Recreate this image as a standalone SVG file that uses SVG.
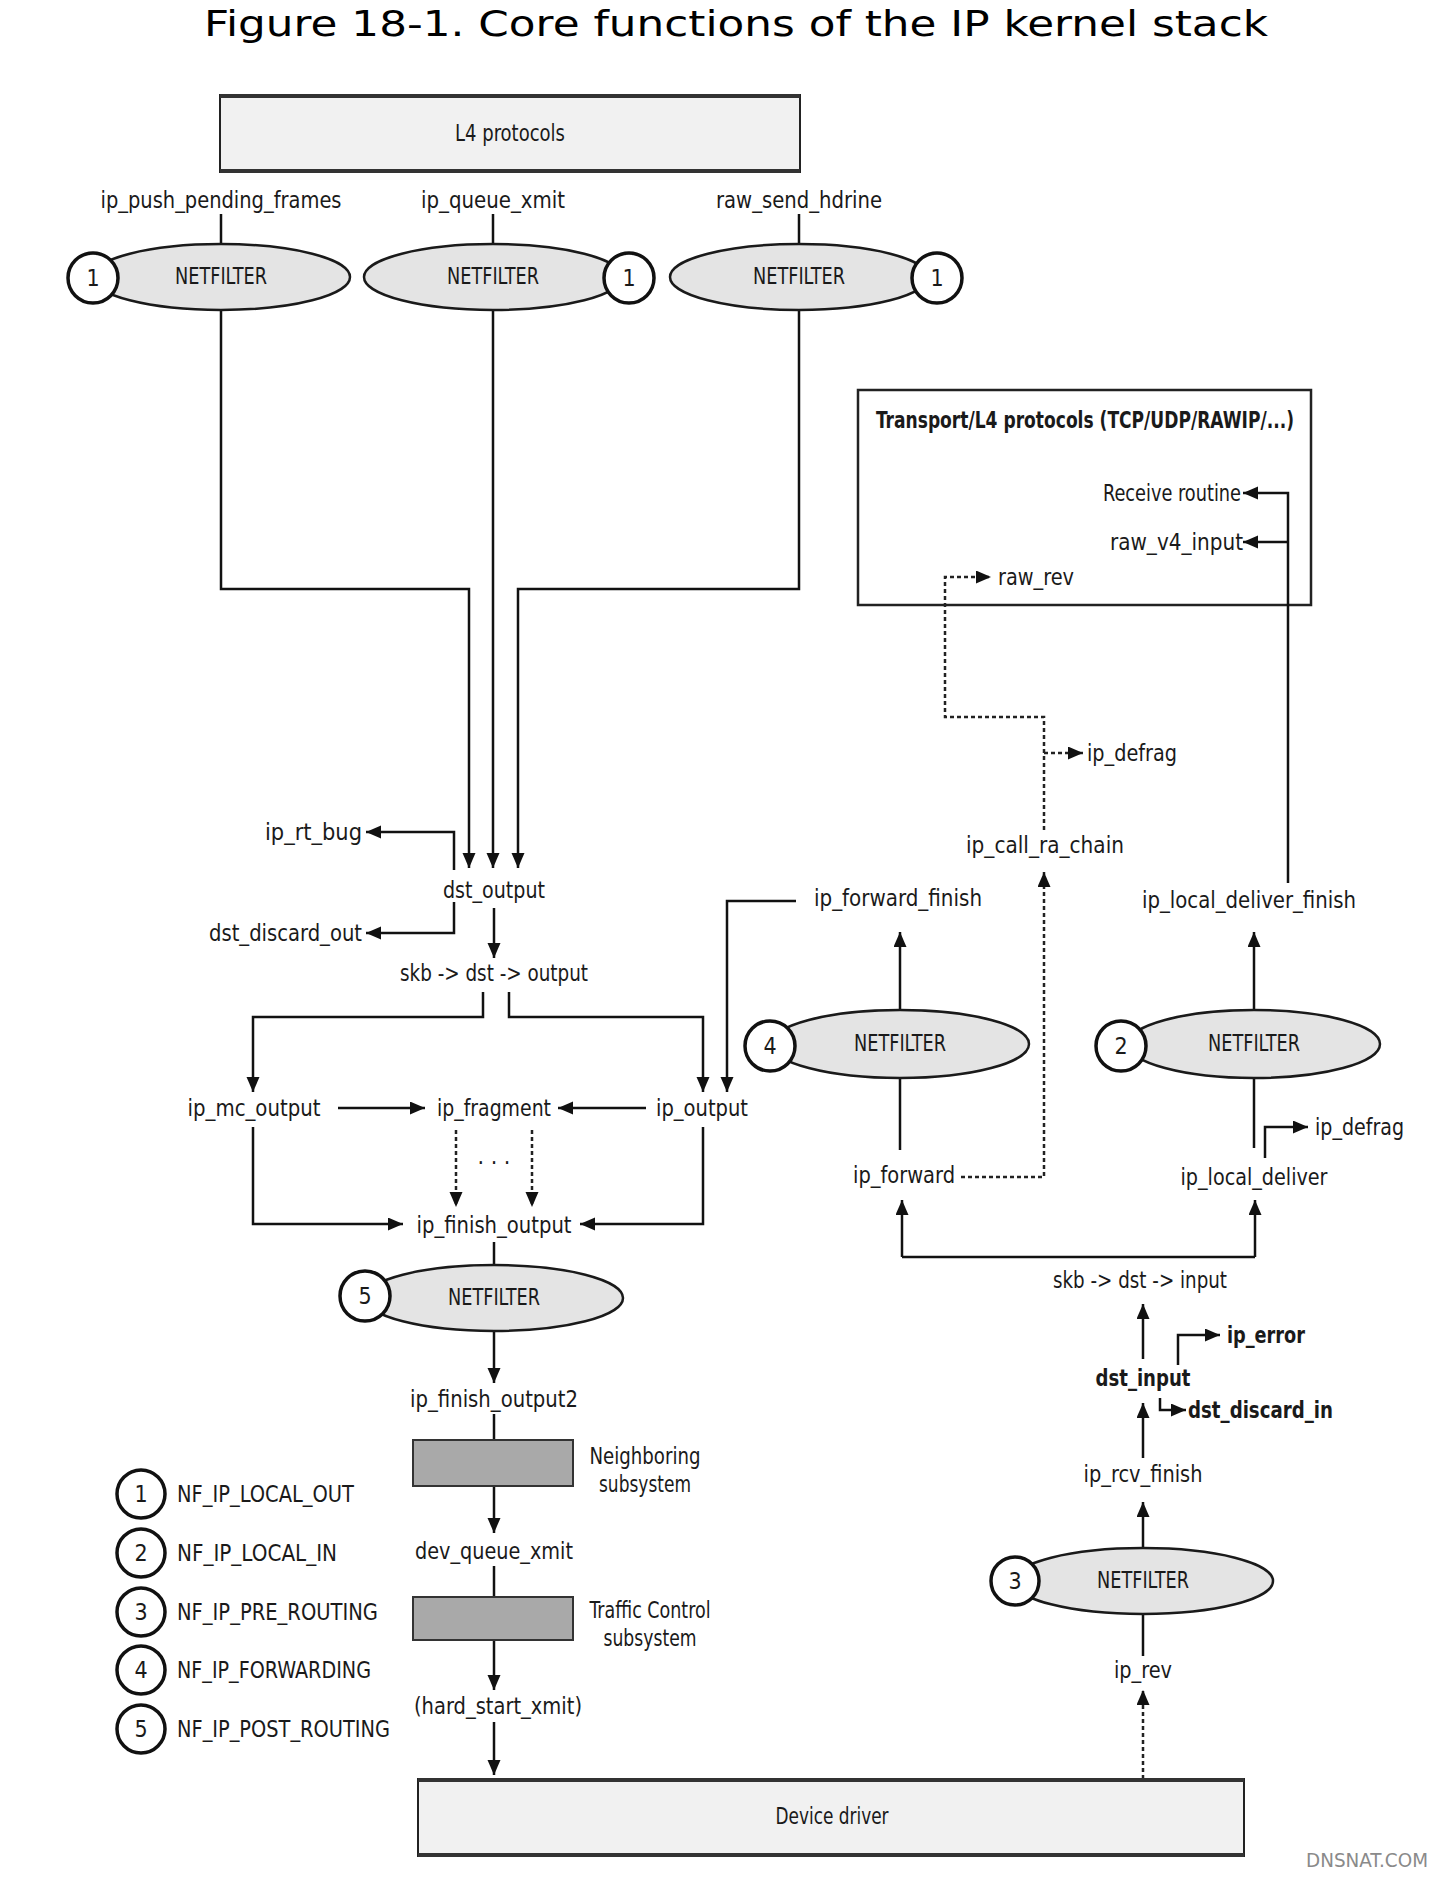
<svg xmlns="http://www.w3.org/2000/svg" width="1440" height="1881" viewBox="0 0 1440 1881">
<defs>
<marker id="ah" markerUnits="userSpaceOnUse" markerWidth="16" markerHeight="14" refX="15" refY="6.5" orient="auto">
<path d="M0,0 L15,6.5 L0,13 z" fill="#111"/>
</marker>
</defs>
<style>
text{font-family:"Liberation Sans Narrow","DejaVu Sans Condensed","Liberation Sans",Arial,sans-serif;font-size:23px;fill:#1a1a1a;dominant-baseline:central}
.m{text-anchor:middle}
.e{text-anchor:end}
.b{font-weight:bold}
.title{font-family:"DejaVu Sans","Liberation Sans",sans-serif;font-size:36px;fill:#000;dominant-baseline:auto}
.nf{fill:#e4e4e4;stroke:#1a1a1a;stroke-width:2.5}
.cir{fill:#fff;stroke:#111;stroke-width:3.5}
.box{fill:#f1f1f1;stroke:#222;stroke-width:2}
.gbox{fill:#a9a9a9;stroke:#333;stroke-width:2}
.c{fill:none;stroke:#111;stroke-width:2.5}
.a{fill:none;stroke:#111;stroke-width:2.5;marker-end:url(#ah)}
.d{fill:none;stroke:#222;stroke-width:2.5;stroke-dasharray:4 3}
.da{fill:none;stroke:#222;stroke-width:2.5;stroke-dasharray:4 3;marker-end:url(#ah)}
.wm{font-family:"DejaVu Sans Condensed","Liberation Sans",sans-serif;font-size:20px;fill:#8a8a8a}
</style>
<rect width="1440" height="1881" fill="#fff"/>
<text class="title m" x="736" y="36" textLength="1064" lengthAdjust="spacingAndGlyphs">Figure 18-1. Core functions of the IP kernel stack</text>

<g id="transport-frame">
<rect x="858" y="390" width="453" height="215" fill="none" stroke="#222" stroke-width="2.5"/>
</g>

<g id="connectors">
<path class="c" d="M221,214 V244 M493,214 V244 M799,214 V244"/>
<path class="a" d="M221,310 V589 H469 V868"/>
<path class="a" d="M493,310 V868"/>
<path class="a" d="M799,310 V589 H518 V868"/>
<path class="a" d="M454,870 V832 H366"/>
<path class="a" d="M454,902 V933 H366"/>
<path class="a" d="M494,908 V958"/>
<path class="a" d="M483,992 V1017 H253 V1092"/>
<path class="a" d="M509,992 V1017 H703 V1092"/>
<path class="a" d="M796,901 H727 V1092"/>
<path class="a" d="M338,1108 H425"/>
<path class="a" d="M646,1108 H558"/>
<path class="da" d="M456,1130 V1207"/>
<path class="da" d="M532,1130 V1207"/>
<path class="a" d="M253,1127 V1224 H403"/>
<path class="a" d="M703,1127 V1224 H580"/>
<path class="c" d="M494,1242 V1265"/>
<path class="a" d="M494,1331 V1383"/>
<path class="c" d="M494,1414 V1440"/>
<path class="a" d="M494,1486 V1533"/>
<path class="c" d="M494,1566 V1597"/>
<path class="a" d="M494,1640 V1690"/>
<path class="a" d="M494,1722 V1775"/>
<path class="da" d="M1143,1779 V1690"/>
<path class="c" d="M1143,1656 V1614"/>
<path class="a" d="M1143,1548 V1502"/>
<path class="a" d="M1143,1458 V1403"/>
<path class="a" d="M1143,1359 V1304"/>
<path class="a" d="M1178,1365 V1335 H1220"/>
<path class="a" d="M1160,1398 V1410 H1186"/>
<path class="c" d="M902,1257 H1255"/>
<path class="a" d="M902,1257 V1200"/>
<path class="a" d="M1255,1257 V1200"/>
<path class="c" d="M900,1150 V1078"/>
<path class="a" d="M900,1010 V932"/>
<path class="da" d="M961,1177 H1044 V872"/>
<path class="c" d="M1254,1148 V1078"/>
<path class="a" d="M1254,1010 V932"/>
<path class="a" d="M1265,1158 V1127 H1308"/>
<path class="a" d="M1288,883 V493 H1243"/>
<path class="a" d="M1288,542 H1243"/>
<path class="da" d="M1044,830 V717 H945 V577 H991"/>
<path class="da" d="M1044,753 H1083"/>
</g>

<g id="l4-protocols">
<rect class="box" x="220" y="95" width="580" height="77"/>
<path d="M220,96 H800 M220,171 H800" stroke="#333" stroke-width="4"/>
<text class="m" x="510" y="133" textLength="110" lengthAdjust="spacingAndGlyphs">L4 protocols</text>
</g>
<g id="label-top">
<text class="m" x="221" y="200" textLength="241" lengthAdjust="spacingAndGlyphs">ip_push_pending_frames</text>
<text class="m" x="493" y="200" textLength="144" lengthAdjust="spacingAndGlyphs">ip_queue_xmit</text>
<text class="m" x="799" y="200" textLength="166" lengthAdjust="spacingAndGlyphs">raw_send_hdrine</text>
</g>
<g id="netfilter-1a">
<ellipse class="nf" cx="221" cy="277" rx="129" ry="33"/>
<text class="m" x="221" y="276" textLength="92" lengthAdjust="spacingAndGlyphs">NETFILTER</text>
<circle class="cir" cx="93" cy="278" r="25"/>
<text class="m" x="93" y="278">1</text>
</g>
<g id="netfilter-1b">
<ellipse class="nf" cx="493" cy="277" rx="129" ry="33"/>
<text class="m" x="493" y="276" textLength="92" lengthAdjust="spacingAndGlyphs">NETFILTER</text>
<circle class="cir" cx="629" cy="278" r="25"/>
<text class="m" x="629" y="278">1</text>
</g>
<g id="netfilter-1c">
<ellipse class="nf" cx="799" cy="277" rx="129" ry="33"/>
<text class="m" x="799" y="276" textLength="92" lengthAdjust="spacingAndGlyphs">NETFILTER</text>
<circle class="cir" cx="937" cy="278" r="25"/>
<text class="m" x="937" y="278">1</text>
</g>

<g id="output-path">
<text class="e" x="362" y="832" textLength="97" lengthAdjust="spacingAndGlyphs">ip_rt_bug</text>
<text class="m" x="494" y="890" textLength="102" lengthAdjust="spacingAndGlyphs">dst_output</text>
<text class="e" x="362" y="933" textLength="153" lengthAdjust="spacingAndGlyphs">dst_discard_out</text>
<text class="m" x="494" y="973" textLength="188" lengthAdjust="spacingAndGlyphs">skb -&gt; dst -&gt; output</text>
<text class="m" x="254" y="1108" textLength="133" lengthAdjust="spacingAndGlyphs">ip_mc_output</text>
<text class="m" x="494" y="1108" textLength="114" lengthAdjust="spacingAndGlyphs">ip_fragment</text>
<text class="m" x="702" y="1108" textLength="92" lengthAdjust="spacingAndGlyphs">ip_output</text>
<text class="m" x="494" y="1163">· · ·</text>
<text class="m" x="494" y="1225" textLength="155" lengthAdjust="spacingAndGlyphs">ip_finish_output</text>
</g>
<g id="netfilter-5">
<ellipse class="nf" cx="494" cy="1298" rx="129" ry="33"/>
<text class="m" x="494" y="1297" textLength="92" lengthAdjust="spacingAndGlyphs">NETFILTER</text>
<circle class="cir" cx="365" cy="1296" r="25"/>
<text class="m" x="365" y="1296">5</text>
</g>
<g id="tx-path">
<text class="m" x="494" y="1399" textLength="168" lengthAdjust="spacingAndGlyphs">ip_finish_output2</text>
<text class="m" x="494" y="1551" textLength="158" lengthAdjust="spacingAndGlyphs">dev_queue_xmit</text>
<text class="m" x="498" y="1706" textLength="168" lengthAdjust="spacingAndGlyphs">(hard_start_xmit)</text>
</g>
<g id="neighboring">
<rect class="gbox" x="413" y="1440" width="160" height="46"/>
<text class="m" x="645" y="1456" textLength="111" lengthAdjust="spacingAndGlyphs">Neighboring</text>
<text class="m" x="645" y="1484" textLength="92" lengthAdjust="spacingAndGlyphs">subsystem</text>
</g>
<g id="traffic-control">
<rect class="gbox" x="413" y="1597" width="160" height="43"/>
<text class="m" x="650" y="1610" textLength="121" lengthAdjust="spacingAndGlyphs">Traffic Control</text>
<text class="m" x="650" y="1638" textLength="93" lengthAdjust="spacingAndGlyphs">subsystem</text>
</g>
<g id="device-driver">
<rect class="box" x="418" y="1779" width="826" height="77"/>
<path d="M418,1780 H1244 M418,1855 H1244" stroke="#333" stroke-width="4"/>
<text class="m" x="832" y="1816" textLength="113" lengthAdjust="spacingAndGlyphs">Device driver</text>
</g>

<g id="legend">
<circle class="cir" cx="141" cy="1494" r="24"/><text class="m" x="141" y="1494">1</text>
<text x="177" y="1494" textLength="177" lengthAdjust="spacingAndGlyphs">NF_IP_LOCAL_OUT</text>
<circle class="cir" cx="141" cy="1553" r="24"/><text class="m" x="141" y="1553">2</text>
<text x="177" y="1553" textLength="160" lengthAdjust="spacingAndGlyphs">NF_IP_LOCAL_IN</text>
<circle class="cir" cx="141" cy="1612" r="24"/><text class="m" x="141" y="1612">3</text>
<text x="177" y="1612" textLength="201" lengthAdjust="spacingAndGlyphs">NF_IP_PRE_ROUTING</text>
<circle class="cir" cx="141" cy="1670" r="24"/><text class="m" x="141" y="1670">4</text>
<text x="177" y="1670" textLength="194" lengthAdjust="spacingAndGlyphs">NF_IP_FORWARDING</text>
<circle class="cir" cx="141" cy="1729" r="24"/><text class="m" x="141" y="1729">5</text>
<text x="177" y="1729" textLength="213" lengthAdjust="spacingAndGlyphs">NF_IP_POST_ROUTING</text>
</g>

<g id="transport">
<text class="b" x="876" y="420" textLength="418" lengthAdjust="spacingAndGlyphs">Transport/L4 protocols (TCP/UDP/RAWIP/...)</text>
<text class="e" x="1241" y="493" textLength="138" lengthAdjust="spacingAndGlyphs">Receive routine</text>
<text class="e" x="1243" y="542" textLength="133" lengthAdjust="spacingAndGlyphs">raw_v4_input</text>
<text x="998" y="577" textLength="76" lengthAdjust="spacingAndGlyphs">raw_rev</text>
</g>
<g id="forward-path">
<text x="1087" y="753" textLength="90" lengthAdjust="spacingAndGlyphs">ip_defrag</text>
<text class="m" x="1045" y="845" textLength="158" lengthAdjust="spacingAndGlyphs">ip_call_ra_chain</text>
<text class="m" x="898" y="898" textLength="168" lengthAdjust="spacingAndGlyphs">ip_forward_finish</text>
<text class="m" x="1249" y="900" textLength="214" lengthAdjust="spacingAndGlyphs">ip_local_deliver_finish</text>
<text class="m" x="904" y="1175" textLength="102" lengthAdjust="spacingAndGlyphs">ip_forward</text>
<text x="1315" y="1127" textLength="89" lengthAdjust="spacingAndGlyphs">ip_defrag</text>
<text class="m" x="1254" y="1177" textLength="147" lengthAdjust="spacingAndGlyphs">ip_local_deliver</text>
</g>
<g id="netfilter-4">
<ellipse class="nf" cx="900" cy="1044" rx="129" ry="34"/>
<text class="m" x="900" y="1043" textLength="92" lengthAdjust="spacingAndGlyphs">NETFILTER</text>
<circle class="cir" cx="770" cy="1046" r="25"/>
<text class="m" x="770" y="1046">4</text>
</g>
<g id="netfilter-2">
<ellipse class="nf" cx="1254" cy="1044" rx="126" ry="34"/>
<text class="m" x="1254" y="1043" textLength="92" lengthAdjust="spacingAndGlyphs">NETFILTER</text>
<circle class="cir" cx="1121" cy="1046" r="25"/>
<text class="m" x="1121" y="1046">2</text>
</g>
<g id="input-path">
<text class="m" x="1140" y="1280" textLength="174" lengthAdjust="spacingAndGlyphs">skb -&gt; dst -&gt; input</text>
<text class="b" x="1227" y="1335" textLength="78" lengthAdjust="spacingAndGlyphs">ip_error</text>
<text class="m b" x="1143" y="1378" textLength="95" lengthAdjust="spacingAndGlyphs">dst_input</text>
<text class="b" x="1188" y="1410" textLength="145" lengthAdjust="spacingAndGlyphs">dst_discard_in</text>
<text class="m" x="1143" y="1474" textLength="119" lengthAdjust="spacingAndGlyphs">ip_rcv_finish</text>
<text class="m" x="1143" y="1670" textLength="58" lengthAdjust="spacingAndGlyphs">ip_rev</text>
</g>
<g id="netfilter-3">
<ellipse class="nf" cx="1143" cy="1581" rx="130" ry="33"/>
<text class="m" x="1143" y="1580" textLength="92" lengthAdjust="spacingAndGlyphs">NETFILTER</text>
<circle class="cir" cx="1015" cy="1581" r="24"/>
<text class="m" x="1015" y="1581">3</text>
</g>
<text class="wm" x="1367" y="1860" text-anchor="middle" textLength="122" lengthAdjust="spacingAndGlyphs">DNSNAT.COM</text>
</svg>
